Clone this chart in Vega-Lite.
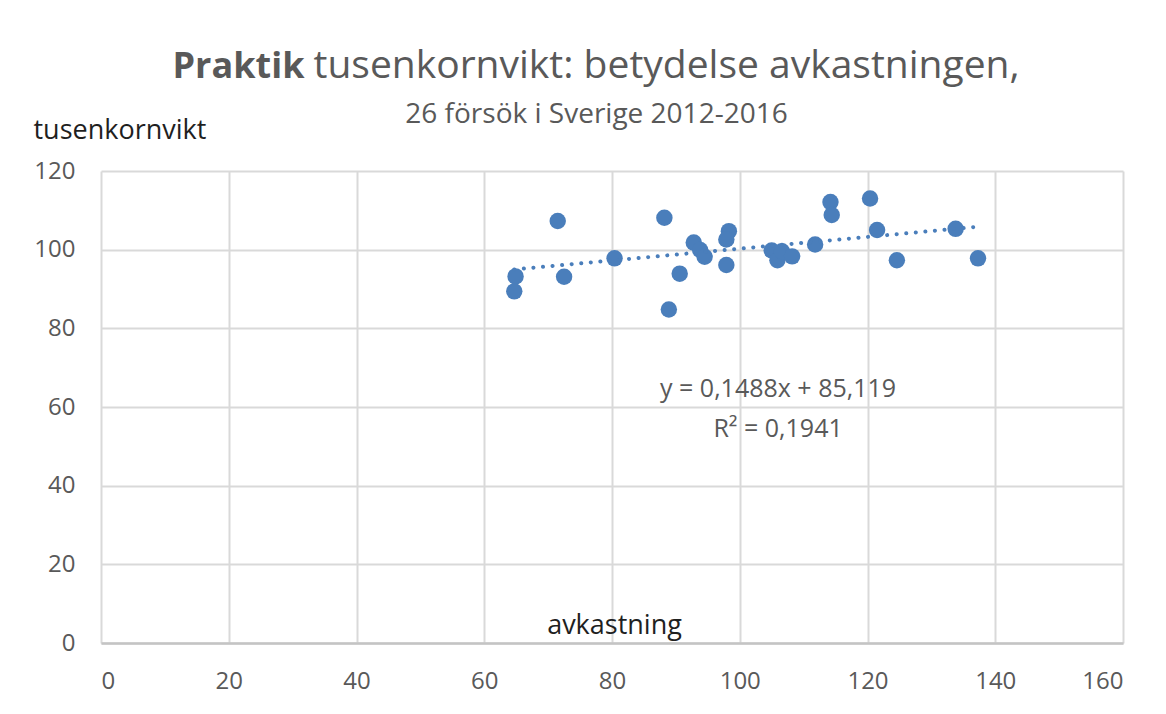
{
  "$schema": "https://vega.github.io/schema/vega-lite/v6.json",
  "width": 1022,
  "height": 472,
  "autosize": {"type": "none"},
  "padding": {"left": 101, "top": 171, "right": 43, "bottom": 71},
  "background": "white",
  "config": {"view": {"stroke": null}, "font": "Open Sans"},
  "data": {"values": [
    {"avkastning": 71.5, "tusenkornvikt": 107.3},
    {"avkastning": 64.9, "tusenkornvikt": 93.2},
    {"avkastning": 64.7, "tusenkornvikt": 89.4},
    {"avkastning": 72.5, "tusenkornvikt": 93.1},
    {"avkastning": 80.4, "tusenkornvikt": 97.8},
    {"avkastning": 88.2, "tusenkornvikt": 108.1},
    {"avkastning": 88.9, "tusenkornvikt": 84.8},
    {"avkastning": 90.6, "tusenkornvikt": 93.9},
    {"avkastning": 92.8, "tusenkornvikt": 101.8},
    {"avkastning": 93.8, "tusenkornvikt": 99.9},
    {"avkastning": 94.5, "tusenkornvikt": 98.2},
    {"avkastning": 98.3, "tusenkornvikt": 104.7},
    {"avkastning": 97.9, "tusenkornvikt": 102.6},
    {"avkastning": 97.9, "tusenkornvikt": 96.1},
    {"avkastning": 105.0, "tusenkornvikt": 99.8},
    {"avkastning": 105.9, "tusenkornvikt": 97.3},
    {"avkastning": 106.6, "tusenkornvikt": 99.6},
    {"avkastning": 108.2, "tusenkornvikt": 98.3},
    {"avkastning": 111.8, "tusenkornvikt": 101.3},
    {"avkastning": 114.2, "tusenkornvikt": 112.1},
    {"avkastning": 114.4, "tusenkornvikt": 108.8},
    {"avkastning": 120.4, "tusenkornvikt": 113.0},
    {"avkastning": 121.5, "tusenkornvikt": 105.0},
    {"avkastning": 124.6, "tusenkornvikt": 97.3},
    {"avkastning": 133.8, "tusenkornvikt": 105.3},
    {"avkastning": 137.3, "tusenkornvikt": 97.8}
  ]},
  "layer": [
    {
      "layer": [
        {
          "mark": {"type": "point", "filled": true, "size": 270, "opacity": 1, "color": "#4a7ebb", "strokeWidth": 0},
          "encoding": {
            "x": {
              "field": "avkastning", "type": "quantitative",
              "scale": {"domain": [0, 160], "nice": false, "zero": false},
              "axis": {
                "values": [0, 20, 40, 60, 80, 100, 120, 140, 160],
                "grid": true, "gridColor": "#d9d9d9", "gridWidth": 2,
                "domain": true, "domainColor": "#c4c4c4", "domainWidth": 2.5,
                "ticks": false, "labelPadding": 26, "labelFontSize": 24, "labelColor": "#595959",
                "labelFont": "Open Sans",
                "title": "avkastning", "titleFontSize": 27, "titleFontWeight": "normal", "titleColor": "#1f1f1f",
                "titleFont": "Open Sans", "titleX": 513, "titleY": -10, "titleAlign": "center", "titleBaseline": "alphabetic", "titleAngle": 0
              }
            },
            "y": {
              "field": "tusenkornvikt", "type": "quantitative",
              "scale": {"domain": [0, 120], "nice": false, "zero": false},
              "axis": {
                "values": [0, 20, 40, 60, 80, 100, 120],
                "grid": true, "gridColor": "#d9d9d9", "gridWidth": 2,
                "domain": false, "ticks": false, "labelPadding": 26, "labelFontSize": 24, "labelColor": "#595959",
                "labelFont": "Open Sans",
                "title": "tusenkornvikt", "titleFontSize": 27, "titleFontWeight": "normal", "titleColor": "#1f1f1f",
                "titleFont": "Open Sans", "titleX": -68, "titleY": -33, "titleAlign": "left", "titleBaseline": "alphabetic", "titleAngle": 0
              }
            }
          }
        },
        {
          "transform": [{"regression": "tusenkornvikt", "on": "avkastning"}],
          "mark": {"type": "line", "color": "#4a7ebb", "strokeWidth": 4, "strokeCap": "round", "strokeDash": [0.1, 9.5]},
          "encoding": {
            "x": {"field": "avkastning", "type": "quantitative"},
            "y": {"field": "tusenkornvikt", "type": "quantitative"}
          }
        },
        {
          "data": {"values": [{"label": "y = 0,1488x + 85,119", "line": 1}]},
          "mark": {"type": "text", "text": ["y = 0,1488x + 85,119", "R² = 0,1941"], "font": "Open Sans", "fontSize": 25, "fontWeight": "normal", "fill": "#595959", "stroke": null, "align": "center", "baseline": "alphabetic", "lineHeight": 40},
          "encoding": {
            "x": {"datum": 106},
            "y": {"datum": 62.5}
          }
        }
      ]
    },
    {
      "mark": {"type": "point", "opacity": 0},
      "encoding": {
        "x": {
          "field": "avkastning", "type": "quantitative",
          "scale": {"domain": [0, 160], "nice": false, "zero": false},
          "axis": {"orient": "top", "labels": false, "ticks": false, "domain": false, "grid": false,
            "title": "Praktik", "titleFont": "Open Sans", "titleFontSize": 36, "titleFontWeight": "bold", "titleColor": "#595959",
            "titleX": 71, "titleY": -94, "titleAlign": "left", "titleBaseline": "alphabetic", "titleAngle": 0}
        },
        "y": {
          "field": "tusenkornvikt", "type": "quantitative",
          "scale": {"domain": [0, 120], "nice": false, "zero": false},
          "axis": {"orient": "right", "labels": false, "ticks": false, "domain": false, "grid": false,
            "title": "tusenkornvikt: betydelse avkastningen,", "titleFont": "Open Sans", "titleFontSize": 39, "titleFontWeight": "normal", "titleColor": "#595959",
            "titleX": -810, "titleY": -94, "titleAlign": "left", "titleBaseline": "alphabetic", "titleAngle": 0}
        }
      }
    },
    {
      "mark": {"type": "point", "opacity": 0},
      "encoding": {
        "x": {
          "field": "avkastning", "type": "quantitative",
          "scale": {"domain": [0, 160], "nice": false, "zero": false},
          "axis": {"orient": "top", "labels": false, "ticks": false, "domain": false, "grid": false,
            "title": "26 försök i Sverige 2012-2016", "titleFont": "Open Sans", "titleFontSize": 28, "titleFontWeight": "normal", "titleColor": "#595959",
            "titleX": 495, "titleY": -49, "titleAlign": "center", "titleBaseline": "alphabetic", "titleAngle": 0}
        }
      }
    }
  ],
  "resolve": {"scale": {"x": "independent", "y": "independent"}}
}
